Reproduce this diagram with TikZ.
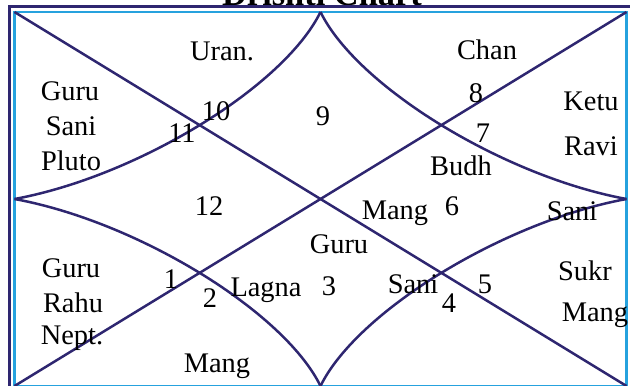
\documentclass[tikz,border=0pt]{standalone}
\usepackage{fontspec}
\setmainfont{Liberation Serif}
\usepackage{xcolor}
\definecolor{cNavy}{RGB}{46,38,112}
\definecolor{cCyan}{RGB}{38,162,222}
\tikzset{
  chartline/.style={draw=cNavy, line width=1.25pt},
  outerframe/.style={draw=cNavy, line width=1.3pt},
  innerframe/.style={draw=cCyan, line width=1.2pt},
  planet/.style={anchor=base, inner sep=0pt,
                 font=\fontsize{14.2}{17}\selectfont},
  housenum/.style={planet},
  titlenode/.style={anchor=base, inner sep=0pt,
                    font=\fontsize{17.2}{20}\selectfont\bfseries}
}
\begin{document}
\begin{tikzpicture}[x=0.5pt, y=-0.5pt]
  \useasboundingbox (0,0) rectangle (630,385);
  \clip (0,0) rectangle (630,385);

  % Title (cut at the top)
  \node[titlenode] (title) at (322,5.5) {Drishti Chart};

  % Frames
  \draw[outerframe] (9.5,6.5) rectangle (650,400);
  \draw[innerframe] (14.5,12) rectangle (626.5,386);

  % Corners and mid points of the chart
  \coordinate (tl) at (14.5,12);
  \coordinate (tr) at (626.5,12);
  \coordinate (bl) at (14.5,386);
  \coordinate (br) at (626.5,386);
  \coordinate (tm) at (320.5,12);
  \coordinate (bm) at (320.5,386);
  \coordinate (lm) at (14.5,199);
  \coordinate (rm) at (626.5,199);

  % Diagonals
  \draw[chartline] (tl) -- (br);
  \draw[chartline] (bl) -- (tr);

  % Curved diamond
  \draw[chartline] (tm) .. controls +(-36.7,74.8) and +(122.4,-22.4) .. (lm);
  \draw[chartline] (lm) .. controls +(122.4,22.4) and +(-36.7,-74.8) .. (bm);
  \draw[chartline] (bm) .. controls +(36.7,-74.8) and +(-122.4,22.4) .. (rm);
  \draw[chartline] (rm) .. controls +(-122.4,-22.4) and +(36.7,74.8) .. (tm);

  % House numbers
  \node[housenum] (n1)  at (171,288) {1};
  \node[housenum] (n2)  at (210,307) {2};
  \node[housenum] (n3)  at (329,295) {3};
  \node[housenum] (n4)  at (449,312) {4};
  \node[housenum] (n5)  at (485,293) {5};
  \node[housenum] (n6)  at (452,215) {6};
  \node[housenum] (n7)  at (483,142) {7};
  \node[housenum] (n8)  at (476,103) {8};
  \node[housenum] (n9)  at (323,125) {9};
  \node[housenum] (n10) at (216,120) {10};
  \node[housenum] (n11) at (182,142) {11};
  \node[housenum] (n12) at (209,215) {12};

  % Planets
  \node[planet] (uran)  at (222,60.5) {Uran.};
  \node[planet] (chan)  at (487,60) {Chan};
  \node[planet] (guruA) at (70,100) {Guru};
  \node[planet] (saniA) at (71,135) {Sani};
  \node[planet] (pluto) at (71,170) {Pluto};
  \node[planet] (ketu)  at (591,110) {Ketu};
  \node[planet] (ravi)  at (591,155) {Ravi};
  \node[planet] (budh)  at (461,175) {Budh};
  \node[planet] (mangA) at (395,219) {Mang};
  \node[planet] (saniB) at (572,220) {Sani};
  \node[planet] (guruB) at (339,253) {Guru};
  \node[planet] (saniC) at (413,293) {Sani};
  \node[planet] (sukr)  at (585,280) {Sukr};
  \node[planet] (mangB) at (595,321) {Mang};
  \node[planet] (guruC) at (71,277) {Guru};
  \node[planet] (rahu)  at (73,312) {Rahu};
  \node[planet] (nept)  at (72,344) {Nept.};
  \node[planet] (lagna) at (266,296) {Lagna};
  \node[planet] (mangC) at (217,372) {Mang};
\end{tikzpicture}
\end{document}
